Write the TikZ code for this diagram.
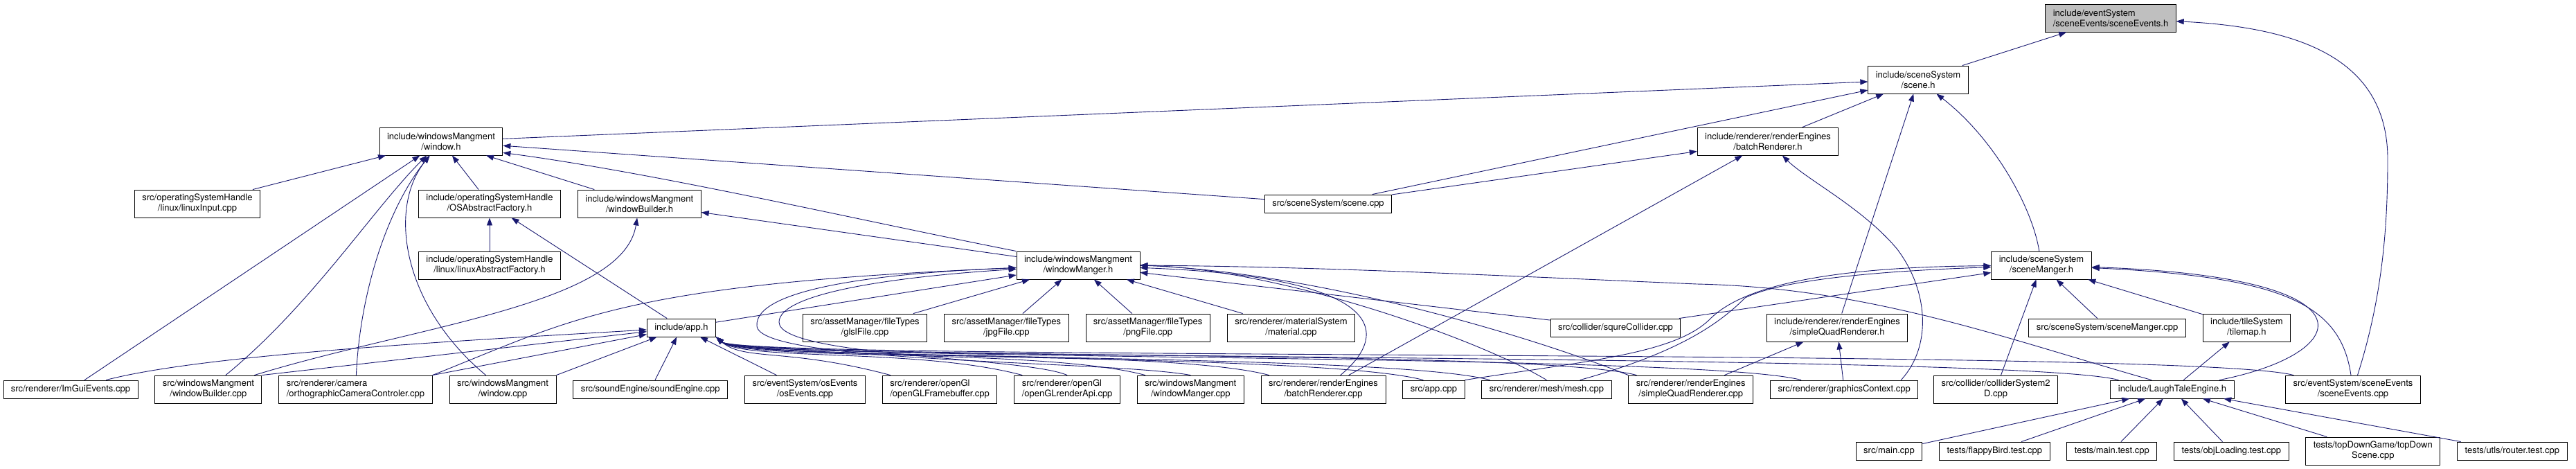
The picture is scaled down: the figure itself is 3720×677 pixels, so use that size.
\documentclass[tikz,border=0pt]{standalone}
\usepackage{fontspec}
\setmainfont{TeX Gyre Heros}
\usepackage{tikz}
\usetikzlibrary{arrows.meta, positioning}
\definecolor{dxblue}{HTML}{191970}
\definecolor{dxgray}{HTML}{BFBFBF}

\begin{document}
\begin{tikzpicture}[
  x=1pt, y=-1pt,
  file/.style={rectangle, draw=black, fill=white, line width=0.9pt,
    minimum height=26pt, inner xsep=11pt, inner ysep=4pt, align=center,
    font=\fontsize{13}{15}\selectfont},
  file2/.style={file, minimum height=40pt},
  edge/.style={draw=dxblue, line width=0.9pt, -{Triangle[length=11pt,width=8pt]}},
  node distance=24pt,
]
  \useasboundingbox (0,0) rectangle (3720,677);

  % headers
  \node[file2, fill=dxgray, align=left] (sceneEvH) at (3048,26) {include/eventSystem\\/sceneEvents/sceneEvents.h};
  \node[file2] (sceneH) at (2770,115) {include/sceneSystem\\/scene.h};
  \node[file2] (windowH) at (637,204) {include/windowsMangment\\/window.h};
  \node[file2] (batchRendH) at (2553,204) {include/renderer/renderEngines\\/batchRenderer.h};
  \node[file2] (linuxInput) at (285,294) {src/operatingSystemHandle\\/linux/linuxInput.cpp};
  \node[file2] (osFactory) at (707,294) {include/operatingSystemHandle\\/OSAbstractFactory.h};
  \node[file2, right=of osFactory] (winBuilderH) {include/windowsMangment\\/windowBuilder.h};
  \node[file] (sceneCpp) at (1918,294) {src/sceneSystem/scene.cpp};
  \node[file2] (linuxFactory) at (707,383) {include/operatingSystemHandle\\/linux/linuxAbstractFactory.h};
  \node[file2] (winMangerH) at (1557,383) {include/windowsMangment\\/windowManger.h};
  \node[file2] (sceneMangerH) at (2948,383) {include/sceneSystem\\/sceneManger.h};

  \node[file] (appH) at (984,473) {include/app.h};
  \node[file2] (glsl) at (1249,473) {src/assetManager/fileTypes\\/glslFile.cpp};
  \node[file2, right=of glsl] (jpg) {src/assetManager/fileTypes\\/jpgFile.cpp};
  \node[file2, right=of jpg] (png) {src/assetManager/fileTypes\\/pngFile.cpp};
  \node[file2, right=of png] (material) {src/renderer/materialSystem\\/material.cpp};
  \node[file] (squreCollider) at (2333,473) {src/collider/squreCollider.cpp};
  \node[file2] (simpleQuadH) at (2653,473) {include/renderer/renderEngines\\/simpleQuadRenderer.h};
  \node[file] (sceneMangerCpp) at (3043,473) {src/sceneSystem/sceneManger.cpp};
  \node[file2, right=of sceneMangerCpp] (tilemap) {include/tileSystem\\/tilemap.h};

  % sources
  \node[file] (imgui) at (102,562) {src/renderer/ImGuiEvents.cpp};
  \node[file2, right=of imgui] (winBuilderCpp) {src/windowsMangment\\/windowBuilder.cpp};
  \node[file2, right=of winBuilderCpp, align=left] (orthoCam) {src/renderer/camera\\/orthographicCameraControler.cpp};
  \node[file2, right=of orthoCam] (windowCpp) {src/windowsMangment\\/window.cpp};
  \node[file, right=of windowCpp] (soundEngine) {src/soundEngine/soundEngine.cpp};
  \node[file2, right=of soundEngine] (osEvents) {src/eventSystem/osEvents\\/osEvents.cpp};
  \node[file2, right=of osEvents, align=left] (glFramebuffer) {src/renderer/openGl\\/openGLFramebuffer.cpp};
  \node[file2, right=of glFramebuffer, align=left] (glRenderApi) {src/renderer/openGl\\/openGLrenderApi.cpp};
  \node[file2, right=of glRenderApi] (winMangerCpp) {src/windowsMangment\\/windowManger.cpp};
  \node[file2, right=of winMangerCpp] (batchRendCpp) {src/renderer/renderEngines\\/batchRenderer.cpp};
  \node[file, right=of batchRendCpp] (appCpp) {src/app.cpp};
  \node[file, right=of appCpp] (meshCpp) {src/renderer/mesh/mesh.cpp};
  \node[file2, right=of meshCpp] (simpleQuadCpp) {src/renderer/renderEngines\\/simpleQuadRenderer.cpp};
  \node[file, right=of simpleQuadCpp] (graphicsCtx) {src/renderer/graphicsContext.cpp};
  \node[file2] (colliderSys) at (2882,562) {src/collider/colliderSystem2\\D.cpp};
  \node[file] (laughTale) at (3137,562) {include/LaughTaleEngine.h};
  \node[file2] (sceneEvCpp) at (3398,562) {src/eventSystem/sceneEvents\\/sceneEvents.cpp};

  \node[file] (mainCpp) at (2728,651) {src/main.cpp};
  \node[file, right=of mainCpp] (flappy) {tests/flappyBird.test.cpp};
  \node[file, right=of flappy] (mainTest) {tests/main.test.cpp};
  \node[file, right=of mainTest] (objLoading) {tests/objLoading.test.cpp};
  \node[file2, right=of objLoading] (topDown) {tests/topDownGame/topDown\\Scene.cpp};
  \node[file, right=of topDown] (router) {tests/utls/router.test.cpp};

  % sceneEvents.h and scene.h
  \draw[edge] (sceneH) -- (sceneEvH);
  \draw[edge] (sceneEvCpp) .. controls (3440,430) and (3448,330) .. (3448,230) .. controls (3448,90) and (3330,40) .. (sceneEvH);
  \draw[edge] (windowH) -- (sceneH);
  \draw[edge] (sceneCpp) -- (sceneH);
  \draw[edge] (batchRendH) -- (sceneH);
  \draw[edge] (simpleQuadH) -- (sceneH);
  \draw[edge] (sceneMangerH) .. controls (2935,300) and (2880,200) .. (sceneH);

  % window.h
  \draw[edge] (linuxInput) -- (windowH);
  \draw[edge] (osFactory) -- (windowH);
  \draw[edge] (winBuilderH) -- (windowH);
  \draw[edge] (sceneCpp) -- (windowH);
  \draw[edge] (winMangerH.north west) .. controls (1250,320) and (950,250) .. ([yshift=4pt]windowH.south east);
  \draw[edge] (imgui) -- (windowH);
  \draw[edge] (winBuilderCpp) .. controls (450,440) and (540,300) .. (windowH);
  \draw[edge] (orthoCam) .. controls (520,420) and (560,300) .. (windowH);
  \draw[edge] (windowCpp) .. controls (580,440) and (560,300) .. (windowH);

  \draw[edge] (linuxFactory) -- (osFactory);
  \draw[edge] (appH) -- (osFactory);
  \draw[edge] (winBuilderCpp) .. controls (600,470) and (900,440) .. (winBuilderH);
  \draw[edge] (winMangerH) -- (winBuilderH);

  % windowManger.h
  \draw[edge] (appH) -- (winMangerH);
  \foreach \t in {glsl,jpg,png,material} \draw[edge] (\t) -- (winMangerH);
  \draw[edge] (orthoCam.north east) .. controls (830,460) and (900,410) .. (winMangerH);
  \draw[edge] (winMangerCpp.north) .. controls (1600,520) and (1093,525) .. (1093,470) .. controls (1090,420) and (1250,395) .. (winMangerH);
  \draw[edge] (glRenderApi.north) .. controls (1480,515) and (1125,515) .. (1125,465) .. controls (1125,425) and (1280,400) .. (winMangerH);
  \draw[edge] (squreCollider) -- (winMangerH);
  \draw[edge] (meshCpp.north) .. controls +(-100,-60) and +(200,5) .. (winMangerH.east);
  \draw[edge] (simpleQuadCpp.north west) .. controls +(-150,-60) and +(250,10) .. (winMangerH.east);
  \draw[edge] (batchRendCpp) .. controls (2010,480) and (2000,400) .. (winMangerH);
  \draw[edge] ([xshift=-30pt]laughTale.north) .. controls (2900,490) and (2700,415) .. (2450,410) .. controls (2100,395) and (1900,385) .. (winMangerH.east);

  % app.h
  \draw[edge] (soundEngine) -- (appH);
  \draw[edge] (osEvents) -- (appH);
  \draw[edge] (imgui) .. controls (300,510) and (700,490) .. (appH);
  \draw[edge] (winBuilderCpp.north east) -- (appH);
  \draw[edge] (orthoCam.north east) -- (appH);
  \draw[edge] (windowCpp.north east) -- (appH);
  \foreach \t/\dx in {glFramebuffer/12, glRenderApi/12, winMangerCpp/12, batchRendCpp/12, appCpp/30,
      meshCpp/12, simpleQuadCpp/12, graphicsCtx/45, laughTale/12, sceneEvCpp/12}
    \draw[edge] ([xshift=\dx pt]\t.north west) .. controls +(-150,-40) and +(40,35) .. (appH.south east);

  % render engines
  \draw[edge] (sceneCpp) -- (batchRendH);
  \draw[edge] (batchRendCpp) -- (batchRendH);
  \draw[edge] ([xshift=-25pt]graphicsCtx.north east) .. controls (2790,500) and (2785,420) .. (2740,360) .. controls (2690,300) and (2610,260) .. (batchRendH);
  \draw[edge] (simpleQuadCpp) -- (simpleQuadH);
  \draw[edge] (graphicsCtx) -- (simpleQuadH);

  % sceneManger.h
  \draw[edge] (squreCollider) -- (sceneMangerH);
  \draw[edge] (colliderSys) -- (sceneMangerH);
  \draw[edge] (sceneMangerCpp) -- (sceneMangerH);
  \draw[edge] (tilemap) -- (sceneMangerH);
  \draw[edge] (appCpp.north east) .. controls (2300,520) and (2420,510) .. (2470,460) .. controls (2530,400) and (2700,385) .. (sceneMangerH);
  \draw[edge] (meshCpp) .. controls (2420,510) and (2480,470) .. (2520,430) .. controls (2580,400) and (2750,390) .. (sceneMangerH);
  \draw[edge] (laughTale) .. controls (3400,510) and (3440,400) .. (sceneMangerH);
  \draw[edge] (sceneEvCpp) .. controls (3380,440) and (3300,400) .. (sceneMangerH);

  % LaughTaleEngine.h
  \draw[edge] (laughTale) -- (tilemap);
  \foreach \t in {mainCpp,flappy,mainTest,objLoading,topDown,router} \draw[edge] (\t) -- (laughTale);
\end{tikzpicture}
\end{document}
